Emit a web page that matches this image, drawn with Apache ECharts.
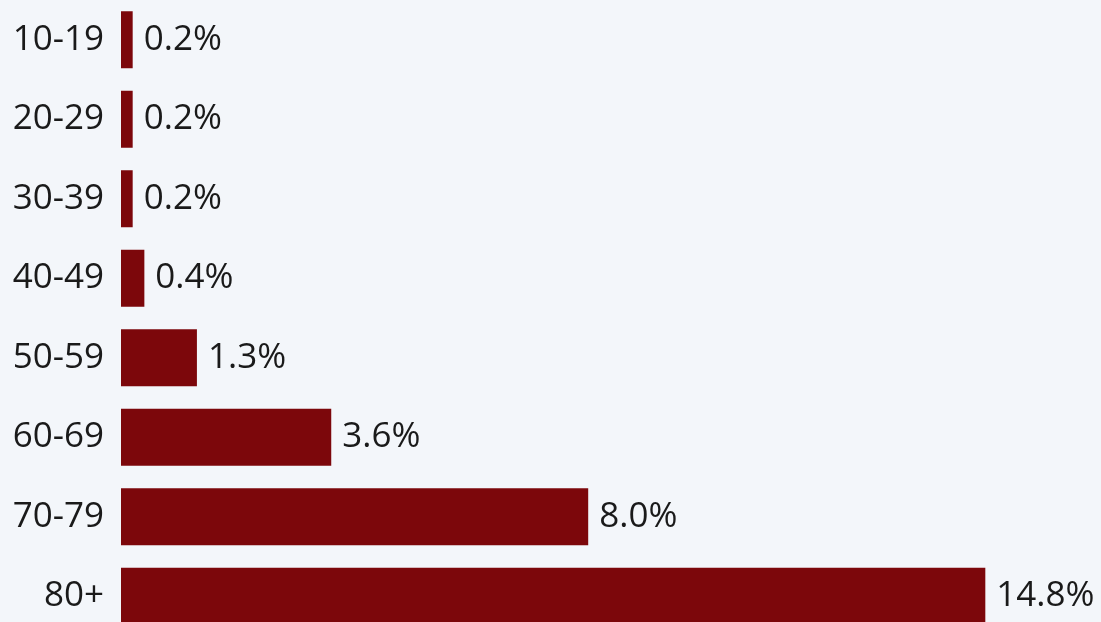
<!DOCTYPE html>
<html>
<head>
<meta charset="utf-8">
<script src="https://cdn.jsdelivr.net/npm/echarts@6/dist/echarts.min.js"></script>
<style>
html,body{margin:0;padding:0;background:#f3f6fa;overflow:hidden;}
#chart{width:1101px;height:636px;}
</style>
</head>
<body>
<div id="chart"></div>
<script>
const categories = ['10-19','20-29','30-39','40-49','50-59','60-69','70-79','80+'];
const values = [0.2, 0.2, 0.2, 0.4, 1.3, 3.6, 8.0, 14.8];

const chart = echarts.init(document.getElementById('chart'));
chart.setOption({
  backgroundColor: '#f3f6fa',
  animation: false,
  grid: { left: 121, top: 0, right: 104, bottom: 0, containLabel: false },
  xAxis: {
    type: 'value', min: 0, max: 15,
    show: false
  },
  yAxis: {
    type: 'category',
    data: categories,
    inverse: true,
    axisLine: { show: false },
    axisTick: { show: false },
    axisLabel: {
      color: '#1a1a1a',
      fontFamily: 'Open Sans',
      fontSize: 35,
      margin: 17
    }
  },
  series: [{
    type: 'bar',
    data: values,
    barWidth: 57,
    itemStyle: { color: '#7c070b' },
    label: {
      show: true,
      position: 'right',
      distance: 11,
      color: '#1a1a1a',
      fontFamily: 'Open Sans',
      fontSize: 35,
      formatter: p => p.value.toFixed(1) + '%'
    }
  }]
});
</script>
</body>
</html>
